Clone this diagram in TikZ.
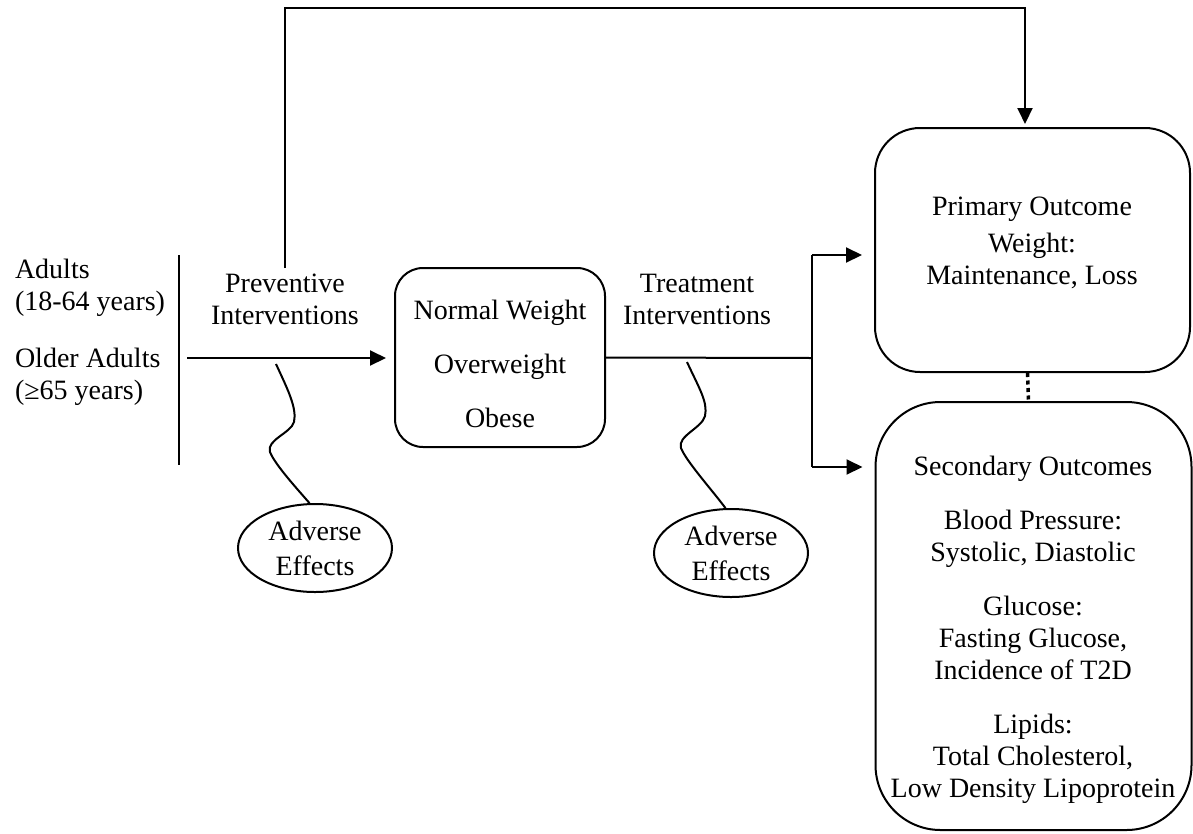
\documentclass[tikz,border=0pt]{standalone}
\usepackage{fontspec}
\setmainfont{Liberation Serif}
\usetikzlibrary{arrows.meta,shapes.geometric,positioning}

\begin{document}
\begin{tikzpicture}[x=1pt,y=-1pt,line width=2pt,
	every node/.style={font=\fontsize{28}{32}\selectfont},
	txt/.style={inner sep=0pt,align=center},
	rbox/.style={draw,rounded corners=#1,inner sep=0pt},
	adv/.style={draw,ellipse,minimum width=154pt,minimum height=88pt,inner sep=0pt,align=center},
	arr/.style={-{Triangle[length=16pt,width=15pt]}}]
	\useasboundingbox (0,0) rectangle (1193,833);
	\node at (14,258)[txt,anchor=north west,align=left] (adults) {Adults\\(18-64 years)};
	\node at (14,347)[txt,anchor=north west,align=left] (older) {Older Adults\\(≥65 years)};
	\coordinate (bt) at (179,255);
	\coordinate (bb) at (179,465);
	\draw (bt)--(bb);
	\node at (285,268)[txt,inner sep=5pt,anchor=north] (prev) {Preventive\\Interventions};
	\node at (500,357.5)[rbox=28pt,minimum width=210pt,minimum height=179pt] (state) {};
	\node at (500,364)[txt] (statetxt) {Normal Weight\\[22pt]Overweight\\[22pt]Obese};
	\coordinate (pin) at (187,358);
	\draw[arr,shorten >=8pt] (pin)--(pin -| state.west);
	\node at (1032.5,250)[rbox=45pt,minimum width=315pt,minimum height=244pt] (prim) {};
	\node at (1032,196)[txt,anchor=north] (primtxt) {Primary Outcome\\[5pt]Weight:\\Maintenance, Loss};
	\node at (1033.5,616)[rbox=65pt,minimum width=316pt,minimum height=428pt] (sec) {};
	\node at (1033,455)[txt,anchor=north] (sectxt) {Secondary Outcomes\\[22pt]Blood Pressure:\\Systolic, Diastolic\\[22pt]Glucose:\\Fasting Glucose,\\Incidence of T2D\\[22pt]Lipids:\\Total Cholesterol,\\Low Density Lipoprotein};
	\coordinate (top) at (1025,8);
	\draw[arr,shorten >=3pt] (prev.north)|-(top)--(top |- prim.north);
	\node at (697,268)[txt,inner sep=5pt,anchor=north] (treat) {Treatment\\Interventions};
	\coordinate (junc) at (812,358);
	\coordinate (jt) at (812,255);
	\coordinate (jb) at (812,467);
	\draw (state.east)--(junc);
	\draw (jt)--(jb);
	\draw[arr,shorten >=12pt] (jt)--(jt -| prim.west);
	\draw[arr,shorten >=12pt] (jb)--(jb -| sec.west);
	\draw[line width=3.5pt,dash pattern=on 4pt off 3.5pt] ([xshift=-5pt]prim.south)--([xshift=-5pt]sec.north);
	\node at (315,548)[adv] (ae1) {Adverse\\[3pt]Effects};
	\node at (731,553)[adv] (ae2) {Adverse\\[3pt]Effects};
	\coordinate (w1) at (276,364);
	\coordinate (w2) at (687,362);
	\draw (w1) .. controls (288,390) and (297,408) .. (294,422) .. controls (291,433) and (266,440) .. (270,452) .. controls (275,465) and (300,492) .. (ae1.97);
	\draw (w2) .. controls (699,388) and (708,402) .. (705,416) .. controls (702,428) and (677,436) .. (681,448) .. controls (686,461) and (712,490) .. (ae2.97);
\end{tikzpicture}
\end{document}
